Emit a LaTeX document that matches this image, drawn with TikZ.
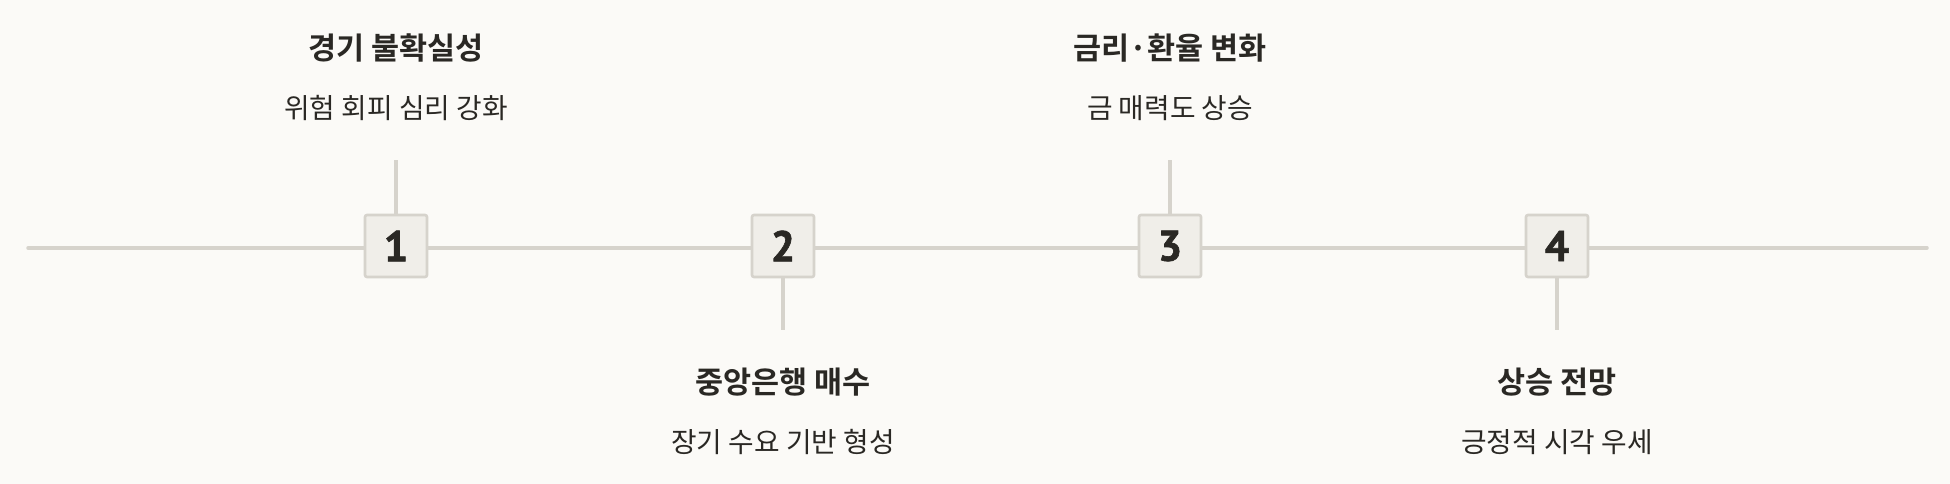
\documentclass[tikz,border=0pt]{standalone}
\usepackage{fontspec}
\newfontfamily\kr{Noto Sans CJK KR}
\newfontfamily\krb{Noto Sans CJK KR Bold}
\newfontfamily\numfont[FakeBold=1.5]{PT Sans Bold}
\definecolor{bg}{HTML}{FBFAF7}
\definecolor{linec}{HTML}{D6D3CC}
\definecolor{boxfill}{HTML}{F0EEE9}
\definecolor{ink}{HTML}{2A2824}
\tikzset{
  stepbox/.style={draw=linec, line width=2.6pt, fill=boxfill, rounded corners=2pt,
    minimum width=62pt, minimum height=62pt, inner sep=0pt,
    font=\numfont\fontsize{43}{43}\selectfont, text=ink},
  axis/.style={draw=linec, line width=3.5pt, line cap=round},
  stub/.style={draw=linec, line width=3.2pt},
  ttl/.style={font=\krb\fontsize{30.5}{33}\selectfont, text=ink, inner sep=0pt},
  sub/.style={font=\kr\fontsize{27.8}{30}\selectfont, text=ink, inner sep=0pt},
}
\begin{document}
\begin{tikzpicture}[x=1pt,y=-1pt]
\fill[bg] (0,0) rectangle (1950,484);
\useasboundingbox (0,0) rectangle (1950,484);
\coordinate (s) at (28,248);
\coordinate (e) at (1927,248);
\node[stepbox] (b1) at (396,246) {1};
\node[stepbox] (b2) at (783,246) {2};
\node[stepbox] (b3) at (1170,246) {3};
\node[stepbox] (b4) at (1557,246) {4};
\draw[axis] (s) -- (b1.west |- s);
\draw[axis] (b1.east |- s) -- (b2.west |- s);
\draw[axis] (b2.east |- s) -- (b3.west |- s);
\draw[axis] (b3.east |- s) -- (b4.west |- s);
\draw[axis] (b4.east |- s) -- (e);
\coordinate (u1) at (396,160);
\coordinate (d2) at (783,330);
\coordinate (u3) at (1170,160);
\coordinate (d4) at (1557,330);
\draw[stub] (b1.north) -- (u1);
\draw[stub] (b2.south) -- (d2);
\draw[stub] (b3.north) -- (u3);
\draw[stub] (b4.south) -- (d4);
\node[ttl] (t1) at (396,48) {경기 불확실성};
\node[sub] (s1) at (396,108) {위험 회피 심리 강화};
\node[ttl] (t2) at (783,382) {중앙은행 매수};
\node[sub] (s2) at (783,442) {장기 수요 기반 형성};
\node[ttl] (t3) at (1170,48) {금리·환율 변화};
\node[sub] (s3) at (1170,108) {금 매력도 상승};
\node[ttl] (t4) at (1557,382) {상승 전망};
\node[sub] (s4) at (1557,442) {긍정적 시각 우세};
\end{tikzpicture}
\end{document}
